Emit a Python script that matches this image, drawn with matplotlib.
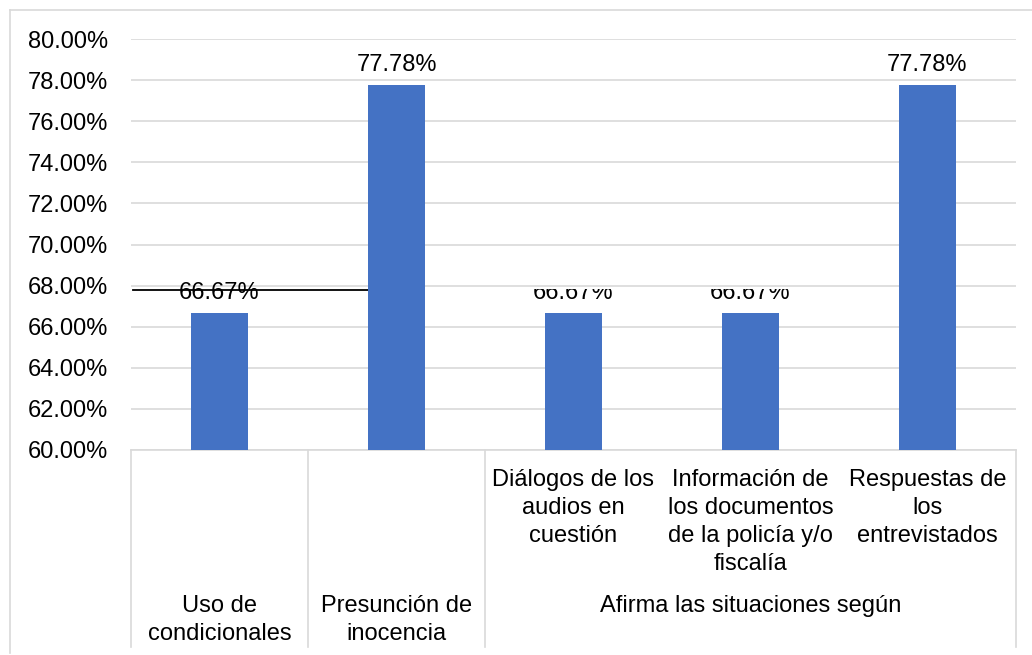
import matplotlib
matplotlib.use("Agg")
import matplotlib.pyplot as plt
from matplotlib.lines import Line2D
from matplotlib.transforms import Bbox, TransformedBbox

# data
inner_labels = ["", "", "Diálogos de los\naudios en\ncuestión",
                "Información de\nlos documentos\nde la policía y/o\nfiscalía",
                "Respuestas de\nlos\nentrevistados"]
outer_labels = ["Uso de\ncondicionales", "Presunción de\ninocencia",
                "Afirma las situaciones según"]
outer_spans = [(0, 0), (1, 1), (2, 4)]
values = [66.67, 77.78, 66.67, 66.67, 77.78]
value_labels = ["66.67%", "77.78%", "66.67%", "66.67%", "77.78%"]
clipped_labels = [2, 3]          # labels whose top is cut off in the source
ref_line = 67.8                  # stray black line drawn over the first label
y_ticks = [60, 62, 64, 66, 68, 70, 72, 74, 76, 78, 80]

W, H = 1032, 655
plt.rcParams['font.family'] = ['Liberation Sans', 'DejaVu Sans']
plt.rcParams['font.size'] = 17

fig = plt.figure(figsize=(W / 100, H / 100), dpi=100)
ax_left, ax_right, ax_top, ax_bottom = 131, 1016, 39, 450
ax = fig.add_axes([ax_left / W, 1 - ax_bottom / H,
                   (ax_right - ax_left) / W, (ax_bottom - ax_top) / H])

def yfrac(py):
    # pixel row -> axes fraction (can be negative, below the axis)
    return (ax_bottom - py) / (ax_bottom - ax_top)

grid_col = "#d9d9d9"
bar_col = "#4472c4"
x = list(range(len(values)))

ax.bar(x, values, width=0.32, color=bar_col, zorder=3)
ax.set_xlim(-0.5, len(values) - 0.5)
ax.set_ylim(60, 80)
ax.set_yticks(y_ticks)
ax.set_yticklabels([f"{t:.2f}%" for t in y_ticks])
ax.tick_params(axis="y", length=0, pad=16.5)
ax.set_xticks([])
ax.yaxis.grid(True, color=grid_col, linewidth=1.2, zorder=0)
ax.set_axisbelow(True)
for s in ["top", "right", "left"]:
    ax.spines[s].set_visible(False)
ax.spines["bottom"].set_color(grid_col)
ax.spines["bottom"].set_linewidth(1.2)

# stray black line
ax.plot([-0.49, 1.0], [ref_line, ref_line], color="black", lw=1.3, zorder=2)

# value labels
for i, (v, lab) in enumerate(zip(values, value_labels)):
    t = ax.annotate(lab, (i, v), xytext=(0, 10), textcoords="offset points",
                    ha="center", va="baseline", color="black", zorder=4)
    if i in clipped_labels:
        t.set_clip_on(True)
        t.set_clip_box(TransformedBbox(Bbox([[i - 0.5, 55], [i + 0.5, 67.85]]),
                                       ax.transData))

# category table below the axis
xt = ax.get_xaxis_transform()
box_bottom = yfrac(647)
seps = [-0.5] + [s[1] + 0.5 for s in outer_spans]
for s in seps:
    ax.add_line(Line2D([s, s], [0, box_bottom], transform=xt, color=grid_col,
                       lw=1.2, clip_on=False))

for i, lab in enumerate(inner_labels):
    if lab:
        ax.text(i, yfrac(469), lab, transform=xt, ha="center", va="top",
                multialignment="center", linespacing=1.35)

for lab, (a, b) in zip(outer_labels, outer_spans):
    ax.text((a + b) / 2, yfrac(595), lab, transform=xt, ha="center", va="top",
            multialignment="center", linespacing=1.35)

# outer chart border (left and top edges visible)
fig.add_artist(Line2D([10 / W, 10 / W], [1 - 653 / H, 1 - 10 / H],
                      transform=fig.transFigure, color=grid_col, lw=1.2))
fig.add_artist(Line2D([10 / W, 1.0], [1 - 10 / H, 1 - 10 / H],
                      transform=fig.transFigure, color=grid_col, lw=1.2))

fig.savefig("out.png", dpi=100)
